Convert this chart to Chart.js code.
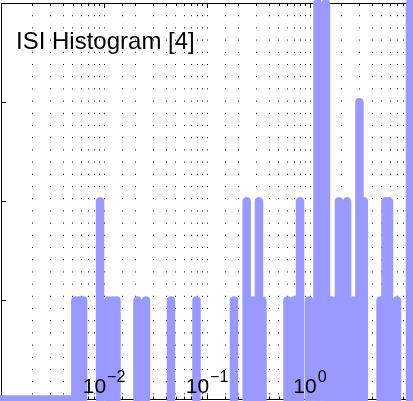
<!DOCTYPE html>
<html>
<head>
<meta charset="utf-8">
<title>ISI Histogram [4]</title>
<script src="https://cdn.jsdelivr.net/npm/chart.js@4"></script>
<style>
  html, body { margin: 0; padding: 0; background: #fff; }
  #wrap { width: 413px; height: 401px; position: relative; }
</style>
</head>
<body>
<div id="wrap"><canvas id="isiChart"></canvas></div>
<script>
// inter-spike intervals (s), bin positions that have a count
const binCenters = [
  0.00527, 0.00574, 0.00627, 0.00915, 0.01106, 0.01209, 0.01323,
  0.02115, 0.02557, 0.04473, 0.0791, 0.1828, 0.2429, 0.2797, 0.3197,
  0.3458, 0.6047, 0.699, 0.80, 0.978, 1.183, 1.43, 1.635, 1.91, 2.29,
  2.62, 3.02, 3.33, 4.84, 5.41, 5.85, 6.99, 9.35,
];
const counts = [
  1, 1, 1, 2, 1, 1, 1,
  1, 1, 1, 1, 1, 2, 1, 2,
  1, 1, 1, 2, 1, 4, 4, 1, 2, 2,
  1, 3, 2, 1, 2, 2, 1, 4,
];
const baselineStart = 0.001;
const xMin = 0.001;
const xMax = 10;
const yMin = 0;
const yMax = 4;
const tickExponents = [-2, -1, 0];
const chartTitle = "ISI Histogram [4]";

document.addEventListener("DOMContentLoaded", () => {
  // spikes as vertical strokes, gaps (null) between them
  const points = [{ x: baselineStart, y: 0 }];
  binCenters.forEach((c, i) => {
    if (i > 0) points.push({ x: c, y: null });
    points.push({ x: c, y: 0 }, { x: c, y: counts[i] });
  });

  const fontFamily = '"Liberation Sans", Arial, Helvetica, sans-serif';

  const axisFrame = {
    id: "axisFrame",
    beforeDatasetsDraw(chart) {
      const { ctx, chartArea: a, scales } = chart;
      const x = scales.x;
      const y = scales.y;
      ctx.save();
      ctx.strokeStyle = "#000";
      ctx.lineWidth = 1;
      ctx.beginPath();
      ctx.moveTo(a.left, a.top + 0.5);
      ctx.lineTo(a.right, a.top + 0.5);
      x.ticks.forEach((t) => {
        const px = Math.round(x.getPixelForValue(t.value)) + 0.5;
        const len = t.major ? 5 : 3;
        ctx.moveTo(px, a.top);
        ctx.lineTo(px, a.top + len);
        ctx.moveTo(px, a.bottom);
        ctx.lineTo(px, a.bottom - len);
      });
      y.ticks.forEach((t) => {
        const py = Math.round(y.getPixelForValue(t.value)) + 0.5;
        ctx.moveTo(a.left, py);
        ctx.lineTo(a.left + 5, py);
      });
      ctx.stroke();
      ctx.restore();
    },
    afterDraw(chart) {
      const { ctx, chartArea: a, scales } = chart;
      const x = scales.x;
      ctx.save();
      ctx.fillStyle = "#000";
      ctx.textAlign = "left";
      ctx.textBaseline = "alphabetic";

      // title sits inside the axes
      ctx.font = "24px " + fontFamily;
      ctx.fillText(chartTitle, 16, 49);

      // decade labels inside the bottom of the axes
      tickExponents.forEach((e) => {
        const px = x.getPixelForValue(Math.pow(10, e));
        const base = "10";
        const sup = e < 0 ? "\u2212" + -e : String(e);
        ctx.font = "21px " + fontFamily;
        const wb = ctx.measureText(base).width;
        ctx.font = "16px " + fontFamily;
        const ws = ctx.measureText(sup).width;
        const left = px - (wb + 1 + ws) / 2;
        ctx.font = "21px " + fontFamily;
        ctx.fillText(base, left, a.bottom - 6.2);
        ctx.font = "16px " + fontFamily;
        ctx.fillText(sup, left + wb + 1, a.bottom - 18);
      });
      ctx.restore();
    },
  };

  const ctx = document.getElementById("isiChart").getContext("2d");
  new Chart(ctx, {
    type: "line",
    data: {
      datasets: [
        {
          label: "ISI",
          data: points,
          borderColor: "#9999ff",
          backgroundColor: "#9999ff",
          borderWidth: 8.5,
          borderCapStyle: "round",
          borderJoinStyle: "round",
          pointRadius: 0,
          pointHoverRadius: 0,
          tension: 0,
          spanGaps: false,
          clip: false,
        },
      ],
    },
    options: {
      responsive: true,
      maintainAspectRatio: false,
      animation: false,
      events: [],
      layout: { padding: { left: 1, right: 0, top: 3, bottom: 1.5 } },
      plugins: {
        legend: { display: false },
        tooltip: { enabled: false },
        title: { display: false },
      },
      scales: {
        x: {
          type: "logarithmic",
          min: xMin,
          max: xMax,
          ticks: { display: false },
          grid: {
            display: true,
            drawTicks: false,
            color: "#000",
            lineWidth: 1,
          },
          border: { display: true, color: "#000", width: 1, dash: [1, 11.2] },
        },
        y: {
          type: "linear",
          min: yMin,
          max: yMax,
          ticks: { display: false, stepSize: 1 },
          grid: { display: false, drawTicks: false },
          border: { display: true, color: "#000", width: 1 },
        },
      },
    },
    plugins: [axisFrame],
  });
});
</script>
</body>
</html>
